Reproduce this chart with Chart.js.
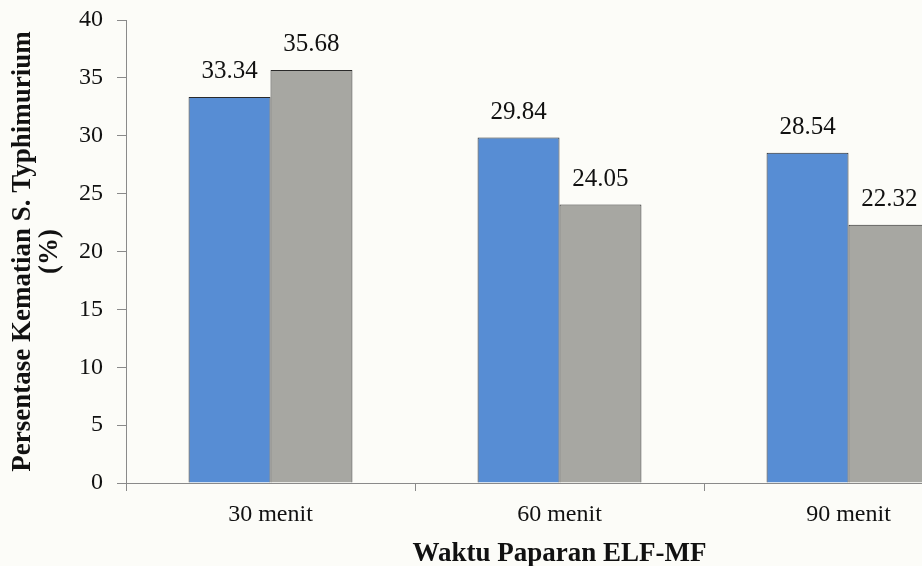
<!DOCTYPE html>
<html>
<head>
<meta charset="utf-8">
<script src="https://cdn.jsdelivr.net/npm/chart.js@4/dist/chart.umd.min.js"></script>
<style>
html,body{margin:0;padding:0;overflow:hidden;background:#fcfcf8;width:922px;height:566px;}
canvas{display:block;}
</style>
</head>
<body>
<canvas id="c" width="1000" height="566"></canvas>
<script>
const categories = ["30 menit", "60 menit", "90 menit"];
const seriesA = [33.34, 29.84, 28.54];
const seriesB = [35.68, 24.05, 22.32];
const yTicks = [0, 5, 10, 15, 20, 25, 30, 35, 40];

const FONT = "'Liberation Serif', 'Times New Roman', serif";

const bgPlugin = {
  id: 'bg',
  beforeDraw(chart) {
    const ctx = chart.ctx;
    ctx.save();
    ctx.fillStyle = '#fcfcf8';
    ctx.fillRect(0, 0, chart.width, chart.height);
    ctx.restore();
  }
};

const labelPlugin = {
  id: 'valueLabels',
  afterDatasetsDraw(chart) {
    const ctx = chart.ctx;
    ctx.save();
    ctx.font = "25px " + FONT;
    ctx.fillStyle = '#111';
    ctx.textAlign = 'center';
    ctx.textBaseline = 'alphabetic';
    chart.data.datasets.forEach((ds, i) => {
      const meta = chart.getDatasetMeta(i);
      meta.data.forEach((el, j) => {
        ctx.fillText(ds.data[j].toFixed(2), el.x, el.y - 19);
      });
    });
    ctx.restore();
  }
};

new Chart(document.getElementById('c'), {
  type: 'bar',
  data: {
    labels: categories,
    datasets: [
      { label: 'A', data: seriesA, backgroundColor: '#578dd4', borderColor: '#2a2a2a', borderWidth: 1 },
      { label: 'B', data: seriesB, backgroundColor: '#a7a7a2', borderColor: '#2a2a2a', borderWidth: 1 }
    ]
  },
  options: {
    responsive: false,
    animation: false,
    layout: { padding: { top: 0, right: 7, left: 0, bottom: 0 } },
    datasets: { bar: { categoryPercentage: 0.567, barPercentage: 1.0 } },
    plugins: { legend: { display: false }, tooltip: { enabled: false } },
    scales: {
      x: {
        afterFit(scale) { scale.height = 83; },
        grid: { display: true, drawOnChartArea: false, offset: true, tickLength: 8, color: '#8a8a8a' },
        border: { display: true, color: '#8a8a8a', width: 1 },
        ticks: { font: { family: FONT, size: 24 }, color: '#111', padding: 9 },
        title: { display: true, text: 'Waktu Paparan ELF-MF', font: { family: FONT, size: 27, weight: 'bold', lineHeight: 1.0 }, color: '#111', padding: { top: 0, bottom: -2 } }
      },
      y: {
        min: 0, max: 40,
        afterBuildTicks(scale) { scale.ticks = yTicks.map(v => ({ value: v })); },
        afterFit(scale) { scale.width = 126; scale.paddingTop = 20; scale.paddingBottom = 0; },
        grid: { display: true, drawOnChartArea: false, tickLength: 9, color: '#8a8a8a' },
        border: { display: true, color: '#8a8a8a', width: 1 },
        ticks: { font: { family: FONT, size: 24 }, color: '#111', padding: 14 },
        title: { display: true, text: ['Persentase Kematian S. Typhimurium', '(%)'], font: { family: FONT, size: 27, weight: 'bold', lineHeight: 1.0 }, color: '#111', padding: { top: 10, bottom: 0 } }
      }
    }
  },
  plugins: [bgPlugin, labelPlugin]
});
</script>
</body>
</html>
